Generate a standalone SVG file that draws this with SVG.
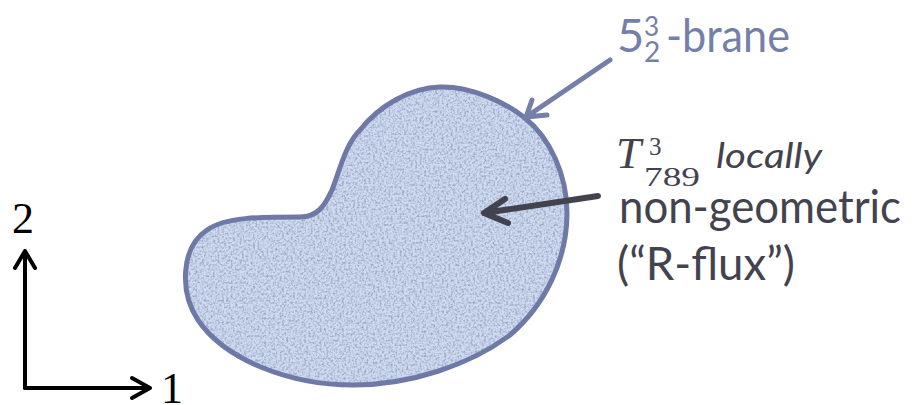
<svg xmlns="http://www.w3.org/2000/svg" width="921" height="405" viewBox="0 0 921 405">
<style>
.sans{font-family:Lato,"Noto Sans",sans-serif}
.serif{font-family:"Liberation Serif","DejaVu Serif",serif}
.brane{fill:#7580A8}
.dark{fill:#43434F}
.ax{stroke:#000;stroke-width:4;fill:none;stroke-linecap:round;stroke-linejoin:round}
</style>
<defs>
<filter id="tex" x="0" y="0" width="100%" height="100%" color-interpolation-filters="sRGB">
<feTurbulence type="fractalNoise" baseFrequency="0.45" numOctaves="2" seed="4" result="n"/>
<feColorMatrix in="n" type="matrix" values="0 0 0 0 0.58  0 0 0 0 0.64  0 0 0 0 0.74  2.4 0 0 0 -1.0" result="c"/>
<feComposite in="c" in2="SourceGraphic" operator="in" result="t"/>
<feMerge><feMergeNode in="SourceGraphic"/><feMergeNode in="t"/></feMerge>
</filter>
</defs>
<rect width="921" height="405" fill="#fff"/>
<g id="blob">
<path d="M440,87 C470,86 505,102 525,118 C550,138 567,175 567,213 C567,260 545,305 510,335 C470,365 410,385 353,385 C290,385 225,360 198,320 C180,293 180,248 207,230 C225,217 260,217 300,217 C318,217 325,205 332,190 C340,170 345,145 360,130 C380,105 410,88 440,87 Z" fill="#CEDAF2" filter="url(#tex)"/>
<path d="M440,87 C470,86 505,102 525,118 C550,138 567,175 567,213 C567,260 545,305 510,335 C470,365 410,385 353,385 C290,385 225,360 198,320 C180,293 180,248 207,230 C225,217 260,217 300,217 C318,217 325,205 332,190 C340,170 345,145 360,130 C380,105 410,88 440,87 Z" fill="none" stroke="#6E79A6" stroke-width="5"/>
</g>
<g id="connectors">
<path d="M610,60 L526,117 M532,100 L526,117 L547,115" fill="none" stroke="#7580A8" stroke-width="5" stroke-linecap="round" stroke-linejoin="round"/>
<path d="M598,196 L484,213 M505,199 L484,213 L508,223" fill="none" stroke="#43434F" stroke-width="6" stroke-linecap="round" stroke-linejoin="round"/>
</g>
<g id="axes">
<path class="ax" d="M25,388 L25,251 M15,268 L25,251 L35,268"/>
<path class="ax" d="M25,388 L150,388 M132,378 L150,388 L132,398"/>
<text class="serif" x="12" y="233" font-size="44">2</text>
<text class="serif" x="161" y="403" font-size="44">1</text>
</g>
<g id="brane-label">
<text class="sans brane" x="617" y="52" font-size="47">5</text>
<text class="sans brane" x="644" y="36" font-size="26">3</text>
<text class="sans brane" x="644" y="62" font-size="28">2</text>
<text class="sans brane" x="666" y="52" font-size="47" textLength="124" lengthAdjust="spacingAndGlyphs">-brane</text>
</g>
<g id="rflux-label">
<text class="serif dark" x="616" y="168" font-size="45" font-style="italic">T</text>
<text class="serif dark" x="649" y="155" font-size="25">3</text>
<text class="serif dark" x="644" y="186" font-size="28" textLength="56" lengthAdjust="spacingAndGlyphs">789</text>
<text class="sans dark" x="716" y="168" font-size="35" font-style="italic" textLength="106" lengthAdjust="spacingAndGlyphs">locally</text>
<text class="sans dark" x="619" y="223" font-size="47" textLength="282" lengthAdjust="spacingAndGlyphs">non-geometric</text>
<text class="sans dark" x="617" y="280" font-size="47" textLength="178" lengthAdjust="spacingAndGlyphs">(“R-flux”)</text>
</g>
</svg>
